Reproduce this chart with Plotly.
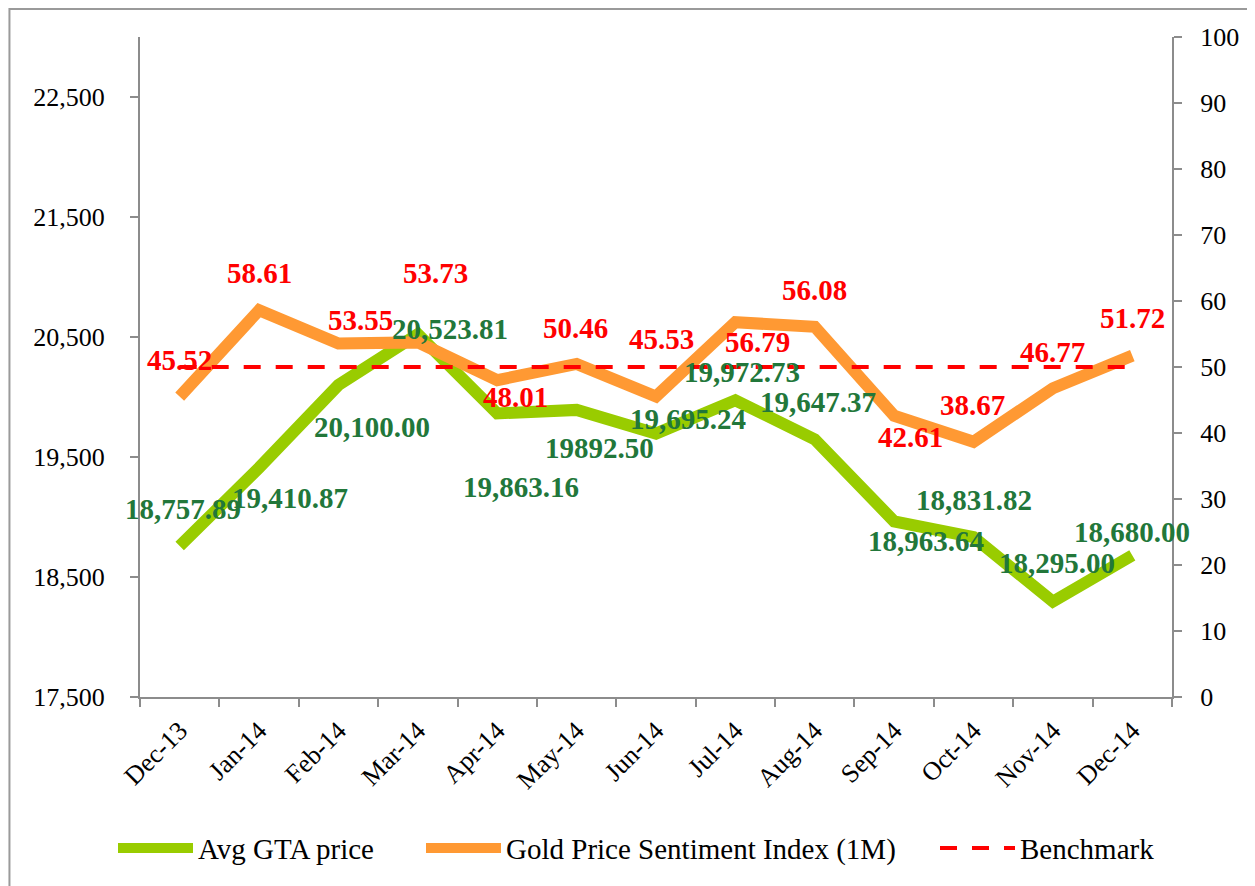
import plotly.graph_objects as go

# ---------------- data ----------------
months = ["Dec-13", "Jan-14", "Feb-14", "Mar-14", "Apr-14", "May-14", "Jun-14",
          "Jul-14", "Aug-14", "Sep-14", "Oct-14", "Nov-14", "Dec-14"]
gta_price = [18757.89, 19410.87, 20100.00, 20523.81, 19863.16, 19892.50, 19695.24,
             19972.73, 19647.37, 18963.64, 18831.82, 18295.00, 18680.00]
gta_labels = ["18,757.89", "19,410.87", "20,100.00", "20,523.81", "19,863.16", "19892.50",
              "19,695.24", "19,972.73", "19,647.37", "18,963.64", "18,831.82", "18,295.00",
              "18,680.00"]
sentiment = [45.52, 58.61, 53.55, 53.73, 48.01, 50.46, 45.53, 56.79, 56.08, 42.61,
             38.67, 46.77, 51.72]
benchmark = [50] * len(months)
left_ticks = [17500, 18500, 19500, 20500, 21500, 22500]
right_ticks = list(range(0, 101, 10))

# label offsets in pixels (dx, dy-up)
gta_off = [(3, 37), (31, -30), (34, -42), (32, 5), (24, -74), (23, -38), (32, 15),
           (7, 28), (3, 37), (32, -20), (0, 37), (4, 39), (0, 23)]
sent_off = [(0, 37), (0, 37), (22, 24), (18, 69), (18, -17), (-1, 36), (5, 58),
            (22, -20), (0, 37), (16, -21), (-1, 37), (0, 36), (0, 38)]

FONT = "Liberation Serif"
GREEN = "#99cc00"
ORANGE = "#ff9933"
RED = "#ff0000"
DKGREEN = "#22773a"
AXIS = "#8c8c8c"

fig = go.Figure()
fig.add_trace(go.Scatter(x=months, y=gta_price, mode="lines", name="Avg GTA price",
                         line=dict(color=GREEN, width=12), yaxis="y", legend="legend"))
fig.add_trace(go.Scatter(x=months, y=sentiment, mode="lines",
                         name="Gold Price Sentiment Index (1M)",
                         line=dict(color=ORANGE, width=12), yaxis="y2", legend="legend2"))
fig.add_trace(go.Scatter(x=months, y=benchmark, mode="lines", name="Benchmark",
                         line=dict(color=RED, width=4, dash="17px,15px"), yaxis="y2",
                         legend="legend3"))

annotations = []
for m, v, t, (dx, dy) in zip(months, gta_price, gta_labels, gta_off):
    annotations.append(dict(x=m, y=v, xref="x", yref="y", text=t, showarrow=False,
                            xshift=dx, yshift=dy,
                            font=dict(family=FONT, size=29, color=DKGREEN, weight="bold")))
for m, v, (dx, dy) in zip(months, sentiment, sent_off):
    annotations.append(dict(x=m, y=v, xref="x", yref="y2", text=f"{v:.2f}", showarrow=False,
                            xshift=dx, yshift=dy,
                            font=dict(family=FONT, size=29, color=RED, weight="bold")))

PW, PH = 1032, 660
def px_x(ax):
    return (ax - 140) / PW

legend_common = dict(orientation="h", xanchor="left", y=-0.229, yanchor="middle",
                     font=dict(family=FONT, size=29, color="black"), itemwidth=75,
                     bgcolor="rgba(0,0,0,0)", borderwidth=0)

fig.update_layout(
    width=1247, height=878,
    margin=dict(l=132, r=83, t=29, b=189),
    paper_bgcolor="white", plot_bgcolor="white",
    font=dict(family=FONT, size=26, color="black"),
    showlegend=True,
    legend=dict(x=px_x(113), **legend_common),
    legend2=dict(x=px_x(421), **legend_common),
    legend3=dict(x=px_x(935), **legend_common),
    xaxis=dict(type="category", range=[-0.5, 12.5], tickson="boundaries",
               ticks="outside", ticklen=8, tickwidth=2, tickcolor=AXIS,
               showline=True, linecolor=AXIS, linewidth=2, showgrid=False,
               tickangle=-45, tickfont=dict(family=FONT, size=26), zeroline=False,
               ticklabelstandoff=6),
    yaxis=dict(range=[17500, 23000], tickvals=left_ticks, tickformat=",",
               ticks="outside", ticklen=8, tickwidth=2, tickcolor=AXIS,
               showline=True, linecolor=AXIS, linewidth=2, showgrid=False,
               zeroline=False, tickfont=dict(family=FONT, size=26),
               ticklabelstandoff=20),
    yaxis2=dict(range=[0, 100], tickvals=right_ticks, overlaying="y", side="right",
                ticks="outside", ticklen=8, tickwidth=2, tickcolor=AXIS,
                showline=True, linecolor=AXIS, linewidth=2, showgrid=False,
                zeroline=False, tickfont=dict(family=FONT, size=26),
                ticklabelstandoff=13),
    annotations=annotations,
    shapes=[dict(type="rect", xref="paper", yref="paper",
                 x0=-0.1265, x1=1.2, y0=-0.5, y1=1.0424,
                 line=dict(color="#9a9a9a", width=2), fillcolor="rgba(0,0,0,0)",
                 layer="below")],
)

fig.write_html("out.html")
